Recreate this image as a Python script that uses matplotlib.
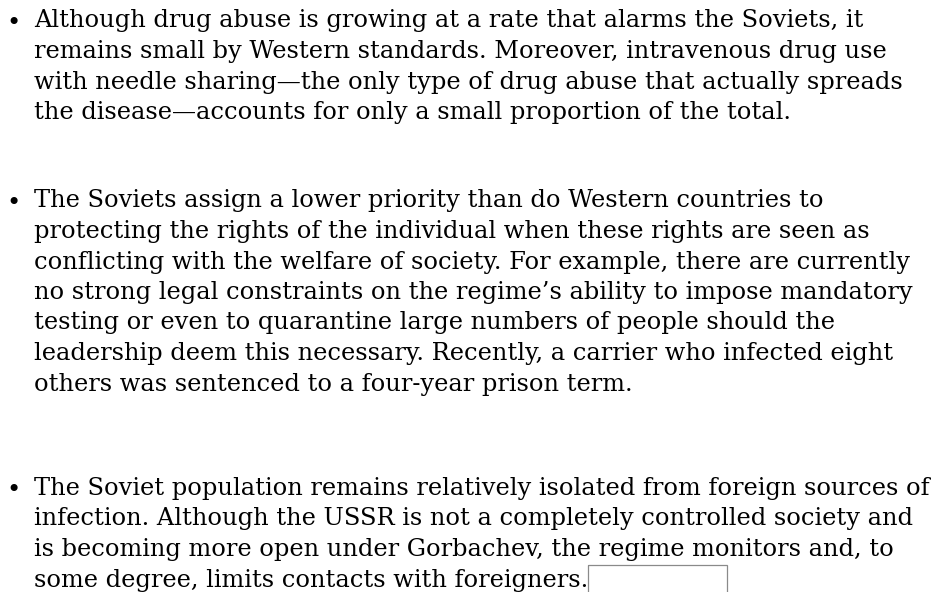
import matplotlib
matplotlib.use("Agg")
import matplotlib.pyplot as plt
from matplotlib.patches import Rectangle

# ---- content ----
para1 = [
    "Although drug abuse is growing at a rate that alarms the Soviets, it",
    "remains small by Western standards. Moreover, intravenous drug use",
    "with needle sharing\u2014the only type of drug abuse that actually spreads",
    "the disease\u2014accounts for only a small proportion of the total.",
]
para2 = [
    "The Soviets assign a lower priority than do Western countries to",
    "protecting the rights of the individual when these rights are seen as",
    "conflicting with the welfare of society. For example, there are currently",
    "no strong legal constraints on the regime\u2019s ability to impose mandatory",
    "testing or even to quarantine large numbers of people should the",
    "leadership deem this necessary. Recently, a carrier who infected eight",
    "others was sentenced to a four-year prison term.",
]
para3 = [
    "The Soviet population remains relatively isolated from foreign sources of",
    "infection. Although the USSR is not a completely controlled society and",
    "is becoming more open under Gorbachev, the regime monitors and, to",
    "some degree, limits contacts with foreigners.",
]
paragraphs = [para1, para2, para3]

# ---- layout ----
W, H = 938, 592
fig = plt.figure(figsize=(W / 100, H / 100), dpi=100)
ax = fig.add_axes([0, 0, 1, 1])
ax.set_xlim(0, W)
ax.set_ylim(H, 0)
ax.axis("off")

family = "DejaVu Serif"
text_x = 34
bullet_x = 6
para_starts = [27.5, 207.5, 495]
line_step = 30.5

# fit font size to a reference line width
ref_line = para2[2]
ref_width = 911 - text_x
probe = ax.text(0, 0, ref_line, fontsize=10, family=family)
fig.canvas.draw()
w10 = probe.get_window_extent().width
probe.remove()
fs = 10 * ref_width / w10

for lines, y0 in zip(paragraphs, para_starts):
    ax.text(bullet_x, y0 + 2, "\u2022", fontsize=fs, family=family,
            va="baseline", ha="left", color="black")
    for i, line in enumerate(lines):
        ax.text(text_x, y0 + i * line_step, line, fontsize=fs, family=family,
                va="baseline", ha="left", color="black")

# empty box after last line
ax.add_patch(Rectangle((588, 565), 139, 40, fill=False, edgecolor="#8a8a8a", lw=0.9))

fig.savefig("out.png", dpi=100, facecolor="white")
